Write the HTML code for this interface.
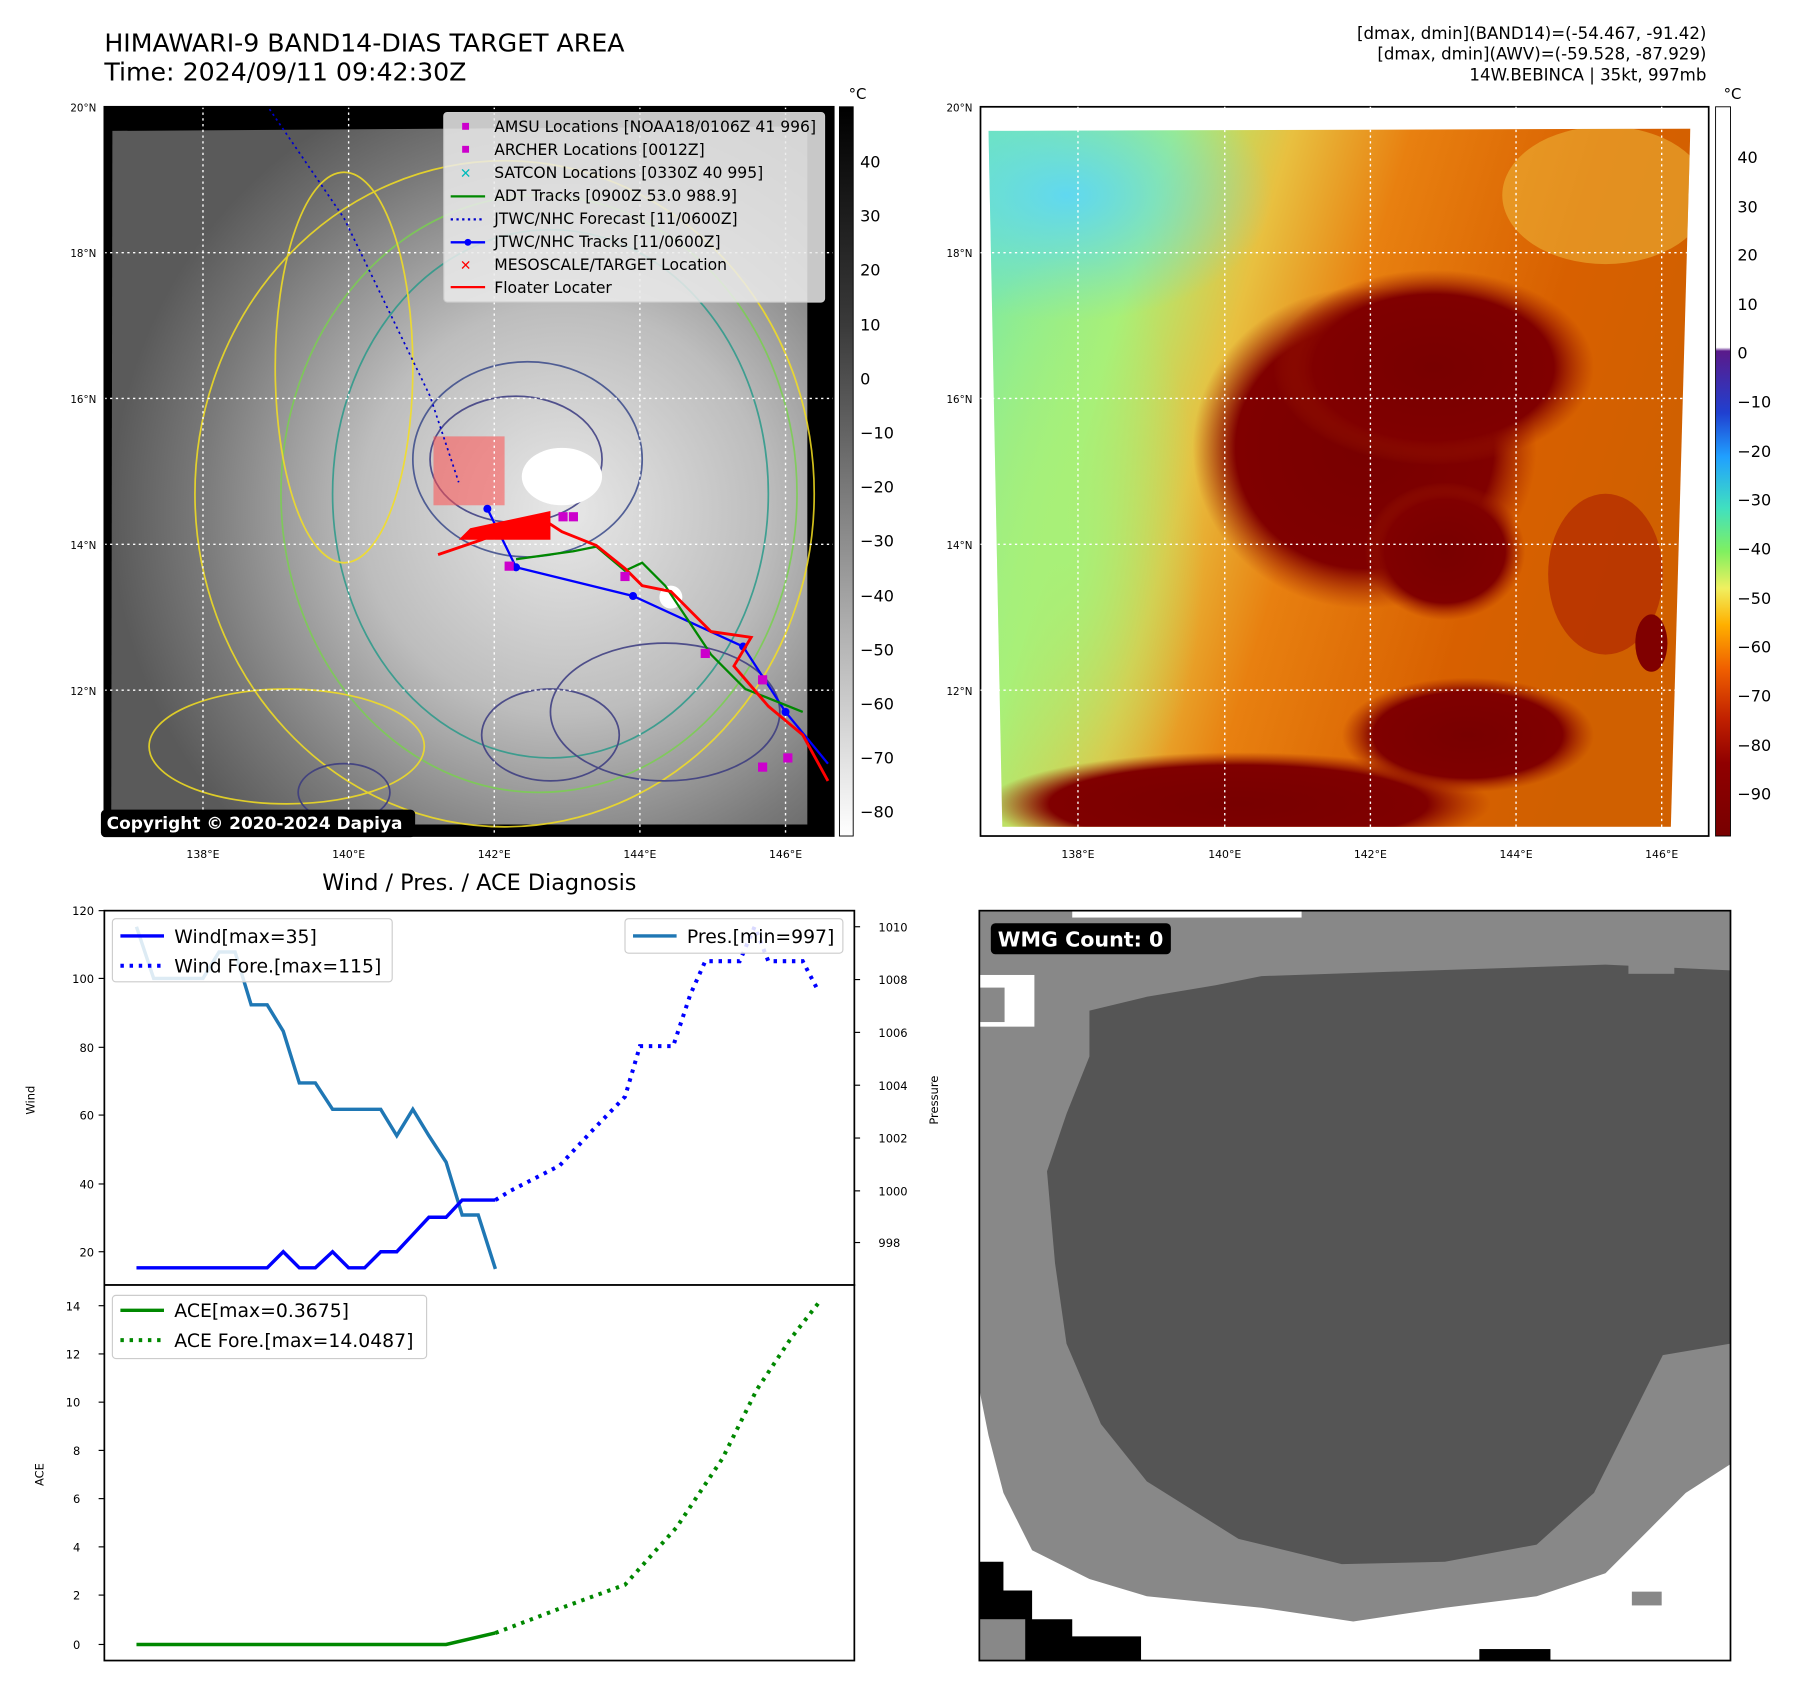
<!DOCTYPE html>
<html><head><meta charset="utf-8"><style>
html,body{margin:0;padding:0;background:#fff}
svg{display:block}
text{font-family:"DejaVu Sans","Liberation Sans",sans-serif}
</style></head><body>
<svg width="1797" height="1695" viewBox="0 0 1567 1476" preserveAspectRatio="none" xmlns="http://www.w3.org/2000/svg">
<defs>
<linearGradient id="cb1" x1="0" y1="0" x2="0" y2="1"><stop offset="0" stop-color="#000"/><stop offset="0.3" stop-color="#3a3a3a"/><stop offset="1" stop-color="#fff"/></linearGradient>
<linearGradient id="cb2" x1="0" y1="0" x2="0" y2="1">
<stop offset="0" stop-color="#fff"/><stop offset="0.33" stop-color="#fff"/><stop offset="0.335" stop-color="#5a1a8a"/><stop offset="0.42" stop-color="#2040d0"/><stop offset="0.48" stop-color="#20a0ff"/><stop offset="0.55" stop-color="#40e0c0"/><stop offset="0.61" stop-color="#80f060"/><stop offset="0.66" stop-color="#f0f060"/><stop offset="0.71" stop-color="#ffb000"/><stop offset="0.77" stop-color="#f06000"/><stop offset="0.84" stop-color="#c02000"/><stop offset="0.9" stop-color="#900000"/><stop offset="1" stop-color="#780000"/></linearGradient>
<radialGradient id="g1" cx="0.65" cy="0.55" r="0.65"><stop offset="0" stop-color="#e8e8e8"/><stop offset="0.45" stop-color="#bdbdbd"/><stop offset="0.8" stop-color="#7a7a7a"/><stop offset="1" stop-color="#5a5a5a"/></radialGradient>
<linearGradient id="g2" x1="0" y1="0" x2="1" y2="0.3"><stop offset="0" stop-color="#70e8b0"/><stop offset="0.25" stop-color="#a8f078"/><stop offset="0.4" stop-color="#e8c040"/><stop offset="0.55" stop-color="#e88010"/><stop offset="0.8" stop-color="#d86000"/><stop offset="1" stop-color="#d06000"/></linearGradient>
<radialGradient id="cy" cx="0.5" cy="0.5" r="0.5"><stop offset="0" stop-color="#60d8f0"/><stop offset="1" stop-color="#60d8f0" stop-opacity="0"/></radialGradient>
<radialGradient id="dr" cx="0.5" cy="0.5" r="0.5"><stop offset="0" stop-color="#780000"/><stop offset="0.75" stop-color="#800000"/><stop offset="1" stop-color="#a02000" stop-opacity="0"/></radialGradient>
<radialGradient id="gr" cx="0.5" cy="0.5" r="0.5"><stop offset="0" stop-color="#a8f078"/><stop offset="1" stop-color="#a8f078" stop-opacity="0"/></radialGradient>
</defs>

<text x="91" y="45" font-size="22">HIMAWARI-9 BAND14-DIAS TARGET AREA</text>
<text x="91" y="70" font-size="22">Time: 2024/09/11 09:42:30Z</text>
<text x="1488" y="34" font-size="14.5" text-anchor="end">[dmax, dmin](BAND14)=(-54.467, -91.42)</text>
<text x="1488" y="52" font-size="14.5" text-anchor="end">[dmax, dmin](AWV)=(-59.528, -87.929)</text>
<text x="1488" y="70" font-size="14.5" text-anchor="end">14W.BEBINCA | 35kt, 997mb</text>

<!-- left map -->
<rect x="91" y="93" width="636" height="635" fill="#000"/>
<polygon points="98,114 704,110 704,718 97,718" fill="url(#g1)"/>
<g fill="none" stroke-width="1.5" opacity="0.85">
<ellipse cx="440" cy="430" rx="270" ry="290" stroke="#f5e020"/>
<ellipse cx="470" cy="430" rx="225" ry="260" stroke="#7ad050"/>
<ellipse cx="480" cy="430" rx="190" ry="230" stroke="#2a9a8a"/>
<ellipse cx="460" cy="400" rx="100" ry="85" stroke="#3a4a8a"/>
<ellipse cx="450" cy="400" rx="75" ry="55" stroke="#3a3a80"/>
<ellipse cx="300" cy="320" rx="60" ry="170" stroke="#f5e020"/>
<ellipse cx="250" cy="650" rx="120" ry="50" stroke="#f5e020"/>
<ellipse cx="580" cy="620" rx="100" ry="60" stroke="#3a3a80"/>
<ellipse cx="480" cy="640" rx="60" ry="40" stroke="#3a3a80"/>
<ellipse cx="300" cy="690" rx="40" ry="25" stroke="#3a3a80"/>
</g>
<ellipse cx="490" cy="415" rx="35" ry="25" fill="#fff"/>
<ellipse cx="585" cy="520" rx="10" ry="10" fill="#fff"/>
<rect x="378" y="380" width="62" height="60" fill="rgba(255,80,80,0.55)"/>
<g stroke="#fff" stroke-dasharray="2,3" stroke-width="1.2"><line x1="177" y1="93" x2="177" y2="728"/><line x1="304" y1="93" x2="304" y2="728"/><line x1="431" y1="93" x2="431" y2="728"/><line x1="558" y1="93" x2="558" y2="728"/><line x1="685" y1="93" x2="685" y2="728"/><line x1="91" y1="220" x2="727" y2="220"/><line x1="91" y1="347" x2="727" y2="347"/><line x1="91" y1="474" x2="727" y2="474"/><line x1="91" y1="601" x2="727" y2="601"/></g>
<polyline points="235,95 300,190 375,345 400,420" fill="none" stroke="#00c" stroke-width="1.5" stroke-dasharray="2,3"/>
<polyline points="425,443 450,494 552,519 648,563 685,620 722,665" fill="none" stroke="#00f" stroke-width="2"/>
<g fill="#00f"><circle cx="425" cy="443" r="3.5"/><circle cx="450" cy="494" r="3.5"/><circle cx="552" cy="519" r="3.5"/><circle cx="648" cy="563" r="3.5"/><circle cx="685" cy="620" r="3.5"/></g>
<polyline points="450,487 500,480 520,476 545,497 560,490 580,510 600,540 620,570 650,600 700,620" fill="none" stroke="#080" stroke-width="2"/>
<polyline points="382,483 420,470 470,450 490,463 520,475 545,495 560,510 585,515 620,550 655,555 640,580 670,615 700,640 722,680" fill="none" stroke="#f00" stroke-width="2.5"/>
<polygon points="410,460 480,445 480,470 400,470" fill="#f00"/>
<g fill="#c0c"><rect x="440" y="489" width="8" height="8"/><rect x="487" y="446" width="8" height="8"/><rect x="496" y="446" width="8" height="8"/><rect x="541" y="498" width="8" height="8"/><rect x="611" y="565" width="8" height="8"/><rect x="661" y="588" width="8" height="8"/><rect x="661" y="664" width="8" height="8"/><rect x="683" y="656" width="8" height="8"/></g>
<rect x="91" y="93" width="636" height="635" fill="none" stroke="#000" stroke-width="1.5"/>
<!-- legend -->
<rect x="387" y="98" width="332" height="165" rx="3" fill="rgba(235,235,235,0.85)" stroke="#ccc"/>
<g font-size="13.6">
<rect x="403" y="107" width="6" height="6" fill="#c0c"/><text x="431" y="115">AMSU Locations [NOAA18/0106Z 41 996]</text>
<rect x="403" y="127" width="6" height="6" fill="#c0c"/><text x="431" y="135">ARCHER Locations [0012Z]</text>
<text x="401" y="155" fill="#0bb" font-size="12">✕</text><text x="431" y="155">SATCON Locations [0330Z 40 995]</text>
<line x1="393" y1="171" x2="423" y2="171" stroke="#080" stroke-width="2"/><text x="431" y="175">ADT Tracks [0900Z 53.0 988.9]</text>
<line x1="393" y1="191" x2="423" y2="191" stroke="#00c" stroke-width="2" stroke-dasharray="2,3"/><text x="431" y="195">JTWC/NHC Forecast [11/0600Z]</text>
<line x1="393" y1="211" x2="423" y2="211" stroke="#00f" stroke-width="2"/><circle cx="408" cy="211" r="3" fill="#00f"/><text x="431" y="215">JTWC/NHC Tracks [11/0600Z]</text>
<text x="401" y="235" fill="#f00" font-size="12" font-weight="bold">✕</text><text x="431" y="235">MESOSCALE/TARGET Location</text>
<line x1="393" y1="250" x2="423" y2="250" stroke="#f00" stroke-width="2"/><text x="431" y="255">Floater Locater</text>
</g>
<rect x="88" y="705" width="274" height="24" rx="4" fill="#000"/>
<text x="93" y="722" font-size="14.8" font-weight="bold" fill="#fff">Copyright © 2020-2024 Dapiya</text>
<g font-size="9" text-anchor="end"><text x="84" y="97">20°N</text><text x="84" y="224">18°N</text><text x="84" y="351">16°N</text><text x="84" y="478">14°N</text><text x="84" y="605">12°N</text></g>
<g font-size="9.5" text-anchor="middle"><text x="177" y="747">138°E</text><text x="304" y="747">140°E</text><text x="431" y="747">142°E</text><text x="558" y="747">144°E</text><text x="685" y="747">146°E</text></g>
<rect x="732" y="93" width="12" height="635" fill="url(#cb1)" stroke="#000" stroke-width="0.8"/>
<text x="740" y="86" font-size="13">°C</text>
<g font-size="14"><text x="750" y="146">40</text><text x="750" y="193">30</text><text x="750" y="240">20</text><text x="750" y="288">10</text><text x="750" y="335">0</text><text x="750" y="382">−10</text><text x="750" y="429">−20</text><text x="750" y="476">−30</text><text x="750" y="524">−40</text><text x="750" y="571">−50</text><text x="750" y="618">−60</text><text x="750" y="665">−70</text><text x="750" y="712">−80</text></g>

<!-- right map -->
<rect x="855" y="93" width="635" height="635" fill="#fff" stroke="#000" stroke-width="1.5"/>
<clipPath id="cp"><polygon points="862,114 1474,112 1457,720 874,720"/></clipPath>
<g clip-path="url(#cp)">
<rect x="855" y="100" width="635" height="630" fill="url(#g2)"/>
<ellipse cx="930" cy="170" rx="180" ry="110" fill="url(#cy)"/>
<ellipse cx="930" cy="480" rx="120" ry="260" fill="url(#gr)"/>
<ellipse cx="1400" cy="170" rx="90" ry="60" fill="#f0c040" opacity="0.5"/>
<ellipse cx="1190" cy="390" rx="150" ry="140" fill="url(#dr)"/>
<ellipse cx="1250" cy="320" rx="140" ry="85" fill="url(#dr)"/>
<ellipse cx="1260" cy="480" rx="70" ry="60" fill="url(#dr)"/>
<ellipse cx="1080" cy="700" rx="220" ry="45" fill="url(#dr)"/>
<ellipse cx="1280" cy="640" rx="110" ry="50" fill="url(#dr)"/>
<ellipse cx="1400" cy="500" rx="50" ry="70" fill="#b02800" opacity="0.7"/>
<ellipse cx="1440" cy="560" rx="14" ry="25" fill="#800000"/>
</g>
<g stroke="#fff" stroke-dasharray="2,3" stroke-width="1.2"><line x1="940" y1="93" x2="940" y2="728"/><line x1="1068" y1="93" x2="1068" y2="728"/><line x1="1195" y1="93" x2="1195" y2="728"/><line x1="1322" y1="93" x2="1322" y2="728"/><line x1="1449" y1="93" x2="1449" y2="728"/><line x1="855" y1="220" x2="1490" y2="220"/><line x1="855" y1="347" x2="1490" y2="347"/><line x1="855" y1="474" x2="1490" y2="474"/><line x1="855" y1="601" x2="1490" y2="601"/></g>
<g font-size="9" text-anchor="end"><text x="848" y="97">20°N</text><text x="848" y="224">18°N</text><text x="848" y="351">16°N</text><text x="848" y="478">14°N</text><text x="848" y="605">12°N</text></g>
<g font-size="9.5" text-anchor="middle"><text x="940" y="747">138°E</text><text x="1068" y="747">140°E</text><text x="1195" y="747">142°E</text><text x="1322" y="747">144°E</text><text x="1449" y="747">146°E</text></g>
<rect x="1496" y="93" width="13" height="635" fill="url(#cb2)" stroke="#000" stroke-width="0.8"/>
<text x="1503" y="86" font-size="13">°C</text>
<g font-size="14"><text x="1515" y="142">40</text><text x="1515" y="185">30</text><text x="1515" y="227">20</text><text x="1515" y="270">10</text><text x="1515" y="312">0</text><text x="1515" y="355">−10</text><text x="1515" y="398">−20</text><text x="1515" y="440">−30</text><text x="1515" y="483">−40</text><text x="1515" y="526">−50</text><text x="1515" y="568">−60</text><text x="1515" y="611">−70</text><text x="1515" y="654">−80</text><text x="1515" y="696">−90</text></g>

<!-- wind/pres -->
<text x="418" y="775" font-size="19.5" text-anchor="middle">Wind / Pres. / ACE Diagnosis</text>
<rect x="91" y="793" width="654" height="326" fill="#fff" stroke="#000" stroke-width="1.5"/>
<g font-size="10" text-anchor="end"><text x="82" y="797">120</text><text x="82" y="856">100</text><text x="82" y="916">80</text><text x="82" y="975">60</text><text x="82" y="1035">40</text><text x="82" y="1094">20</text></g>
<g stroke="#000"><line x1="86" y1="793" x2="91" y2="793"/><line x1="86" y1="852" x2="91" y2="852"/><line x1="86" y1="912" x2="91" y2="912"/><line x1="86" y1="971" x2="91" y2="971"/><line x1="86" y1="1031" x2="91" y2="1031"/><line x1="86" y1="1090" x2="91" y2="1090"/></g>
<text x="30" y="958" font-size="10" transform="rotate(-90 30 958)" text-anchor="middle">Wind</text>
<g font-size="10"><text x="766" y="811">1010</text><text x="766" y="857">1008</text><text x="766" y="903">1006</text><text x="766" y="949">1004</text><text x="766" y="995">1002</text><text x="766" y="1041">1000</text><text x="766" y="1086">998</text></g>
<g stroke="#000"><line x1="745" y1="807" x2="750" y2="807"/><line x1="745" y1="853" x2="750" y2="853"/><line x1="745" y1="899" x2="750" y2="899"/><line x1="745" y1="945" x2="750" y2="945"/><line x1="745" y1="991" x2="750" y2="991"/><line x1="745" y1="1037" x2="750" y2="1037"/><line x1="745" y1="1082" x2="750" y2="1082"/></g>
<text x="818" y="958" font-size="10" transform="rotate(-90 818 958)" text-anchor="middle">Pressure</text>
<polyline points="119,807 134,852 177,852 191,829 205,829 219,875 233,875 247,898 261,943 275,943 290,966 332,966 346,989 360,966 374,989 389,1012 403,1058 417,1058 432,1105" fill="none" stroke="#1f77b4" stroke-width="3"/>
<polyline points="119,1104 233,1104 247,1090 261,1104 275,1104 290,1090 304,1104 318,1104 332,1090 346,1090 360,1075 374,1060 389,1060 403,1045 432,1045" fill="none" stroke="#00f" stroke-width="3"/>
<polyline points="432,1045 445,1037 488,1015 516,985 545,955 558,911 587,911 602,866 615,837 645,837 658,807 670,837 700,837 712,860" fill="none" stroke="#00f" stroke-width="3.5" stroke-dasharray="3,5"/>
<rect x="98" y="800" width="244" height="55" rx="3" fill="rgba(255,255,255,0.85)" stroke="#ccc"/>
<line x1="105" y1="815" x2="143" y2="815" stroke="#00f" stroke-width="3"/><text x="152" y="821" font-size="16.4">Wind[max=35]</text>
<line x1="105" y1="841" x2="143" y2="841" stroke="#00f" stroke-width="3.5" stroke-dasharray="3,5"/><text x="152" y="847" font-size="16.4">Wind Fore.[max=115]</text>
<rect x="545" y="800" width="190" height="30" rx="3" fill="rgba(255,255,255,0.85)" stroke="#ccc"/>
<line x1="552" y1="815" x2="590" y2="815" stroke="#1f77b4" stroke-width="3"/><text x="599" y="821" font-size="16.4">Pres.[min=997]</text>

<!-- ACE -->
<rect x="91" y="1119" width="654" height="327" fill="#fff" stroke="#000" stroke-width="1.5"/>
<g font-size="10" text-anchor="end"><text x="70" y="1141">14</text><text x="70" y="1183">12</text><text x="70" y="1225">10</text><text x="70" y="1267">8</text><text x="70" y="1309">6</text><text x="70" y="1351">4</text><text x="70" y="1393">2</text><text x="70" y="1436">0</text></g>
<g stroke="#000"><line x1="86" y1="1137" x2="91" y2="1137"/><line x1="86" y1="1179" x2="91" y2="1179"/><line x1="86" y1="1221" x2="91" y2="1221"/><line x1="86" y1="1263" x2="91" y2="1263"/><line x1="86" y1="1305" x2="91" y2="1305"/><line x1="86" y1="1347" x2="91" y2="1347"/><line x1="86" y1="1389" x2="91" y2="1389"/><line x1="86" y1="1432" x2="91" y2="1432"/></g>
<text x="38" y="1284" font-size="10" transform="rotate(-90 38 1284)" text-anchor="middle">ACE</text>
<polyline points="119,1432 389,1432 432,1422" fill="none" stroke="#080" stroke-width="3"/>
<polyline points="432,1422 490,1400 545,1380 590,1330 630,1270 660,1210 690,1165 715,1133" fill="none" stroke="#080" stroke-width="3.5" stroke-dasharray="3,5"/>
<rect x="98" y="1128" width="274" height="55" rx="3" fill="rgba(255,255,255,0.85)" stroke="#ccc"/>
<line x1="105" y1="1141" x2="143" y2="1141" stroke="#080" stroke-width="3"/><text x="152" y="1147" font-size="16.4">ACE[max=0.3675]</text>
<line x1="105" y1="1167" x2="143" y2="1167" stroke="#080" stroke-width="3.5" stroke-dasharray="3,5"/><text x="152" y="1173" font-size="16.4">ACE Fore.[max=14.0487]</text>

<!-- WMG -->
<rect x="854" y="793" width="655" height="653" fill="#888"/>
<rect x="935" y="793" width="200" height="6" fill="#fff"/>
<rect x="854" y="849" width="48" height="45" fill="#fff"/>
<rect x="854" y="860" width="22" height="30" fill="#888"/>
<polygon points="854,1210 862,1250 875,1300 900,1350 950,1375 1000,1390 1100,1400 1180,1412 1260,1400 1340,1390 1400,1370 1430,1340 1470,1300 1509,1275 1509,1446 854,1446" fill="#fff"/>
<polygon points="950,880 1000,868 1060,858 1100,850 1250,845 1400,840 1509,845 1509,1170 1450,1180 1420,1240 1390,1300 1340,1345 1260,1360 1170,1362 1080,1340 1000,1290 960,1240 930,1170 920,1100 913,1020 930,970 950,920" fill="#555"/>
<rect x="1420" y="812" width="40" height="36" fill="#888"/>
<rect x="1423" y="1386" width="26" height="12" fill="#888"/>
<polygon points="854,1360 875,1360 875,1385 900,1385 900,1410 935,1410 935,1425 995,1425 995,1446 854,1446" fill="#000"/>
<rect x="854" y="1410" width="40" height="36" fill="#888"/>
<rect x="1290" y="1436" width="62" height="10" fill="#000"/>
<rect x="854" y="793" width="655" height="653" fill="none" stroke="#000" stroke-width="1.5"/>
<rect x="864" y="804" width="157" height="27" rx="4" fill="#000"/>
<text x="870" y="824" font-size="18" font-weight="bold" fill="#fff">WMG Count: 0</text>
</svg>
</body></html>
